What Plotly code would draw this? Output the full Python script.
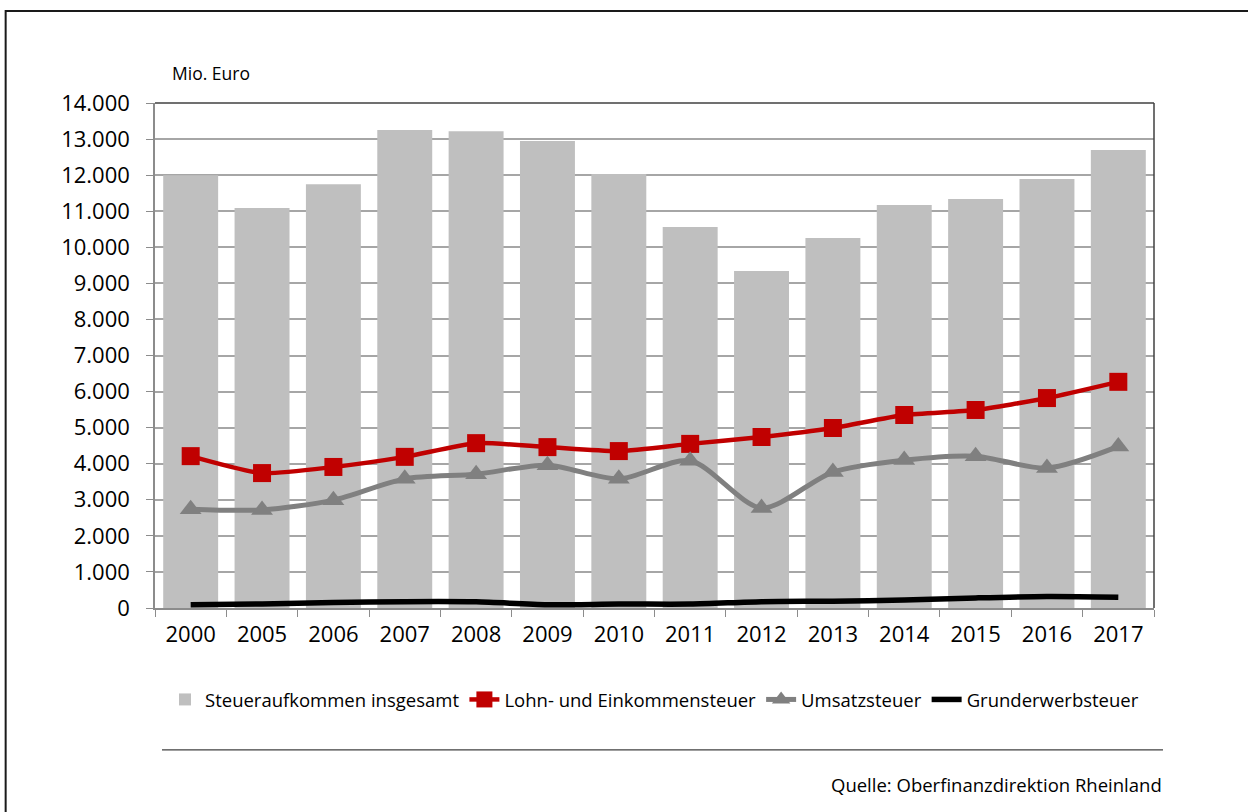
import plotly.graph_objects as go

years = ['2000', '2005', '2006', '2007', '2008', '2009', '2010',
         '2011', '2012', '2013', '2014', '2015', '2016', '2017']
gesamt = [12000, 11090, 11750, 13250, 13220, 12950, 12030,
          10560, 9340, 10260, 11170, 11340, 11890, 12700]
lohn_est = [4210, 3740, 3910, 4190, 4570, 4460, 4350,
            4550, 4740, 4990, 5350, 5490, 5820, 6270]
umsatz = [2740, 2720, 2990, 3580, 3710, 3960, 3580,
          4080, 2770, 3770, 4100, 4210, 3880, 4480]
grunderwerb = [90, 110, 150, 175, 170, 90, 110,
               110, 175, 190, 220, 280, 320, 300]

FONT = 'Open Sans'

fig = go.Figure()
fig.add_trace(go.Bar(x=years, y=gesamt, name='Steueraufkommen insgesamt',
                     marker=dict(color='#bfbfbf', line=dict(width=0))))
fig.add_trace(go.Scatter(x=years, y=lohn_est, name='Lohn- und Einkommensteuer',
                         mode='lines+markers', line=dict(color='#c00000', width=4.5, shape='spline', smoothing=0.6),
                         marker=dict(symbol='square', size=18, color='#c00000')))
fig.add_trace(go.Scatter(x=years, y=umsatz, name='Umsatzsteuer',
                         mode='lines+markers', line=dict(color='#808080', width=5, shape='spline', smoothing=0.8),
                         marker=dict(symbol='triangle-up', size=19, color='#808080')))
fig.add_trace(go.Scatter(x=years, y=grunderwerb, name='Grunderwerbsteuer',
                         mode='lines', line=dict(color='#000000', width=5.5, shape='spline', smoothing=0.8)))

fig.update_layout(
    width=1248, height=812,
    margin=dict(l=155, r=94, t=103, b=204),
    plot_bgcolor='white', paper_bgcolor='white',
    font=dict(family=FONT, color='#000000'),
    separators=',.',
    bargap=0.23,
    showlegend=True,
    legend=dict(orientation='h', x=0.5, xanchor='center', y=-0.182, yanchor='middle',
                font=dict(size=18.5), itemwidth=30, tracegroupgap=0,
                traceorder='normal'),
    xaxis=dict(type='category', range=[-0.5, len(years) - 0.5],
               showline=True, linecolor='#8c8c8c', linewidth=1.5,
               mirror=False, ticks='outside', tickson='boundaries', ticklen=7,
               tickcolor='#8c8c8c', tickfont=dict(size=22), showgrid=False,
               ticklabelstandoff=6),
    yaxis=dict(range=[0, 14000], dtick=1000, tickformat=',', showline=True,
               linecolor='#8c8c8c', linewidth=1.5, ticks='outside', ticklen=7,
               tickcolor='#8c8c8c', gridcolor='#a6a6a6', gridwidth=1.5,
               tickfont=dict(size=22), zeroline=False, ticklabelstandoff=12),
)

# plot frame: dark top and right border
fig.add_shape(type='line', xref='paper', yref='paper', x0=0, x1=1, y0=1, y1=1,
              line=dict(color='#404040', width=1.5))
fig.add_shape(type='line', xref='paper', yref='paper', x0=1, x1=1, y0=0, y1=1,
              line=dict(color='#404040', width=1.5))

# outer frame
fig.add_shape(type='rect', xref='paper', yref='paper',
              x0=-0.1495, x1=1.2, y0=-0.5, y1=1.182,
              line=dict(color='#1a1a1a', width=2), layer='above')

# separator line above the source
fig.add_shape(type='line', xref='paper', yref='paper', x0=0.007, x1=1.009,
              y0=-0.281, y1=-0.281, line=dict(color='#404040', width=1.3))

fig.add_annotation(text='Mio. Euro', xref='paper', yref='paper', x=0.015, y=1.059,
                   xanchor='left', yanchor='middle', showarrow=False,
                   font=dict(size=17.5))
fig.add_annotation(text='Quelle: Oberfinanzdirektion Rheinland', xref='paper', yref='paper',
                   x=1.01, y=-0.35, xanchor='right', yanchor='middle', showarrow=False,
                   font=dict(size=18.5))

fig.write_html('out.html', config={'displayModeBar': False},
               post_script="document.body.style.margin='0';")
